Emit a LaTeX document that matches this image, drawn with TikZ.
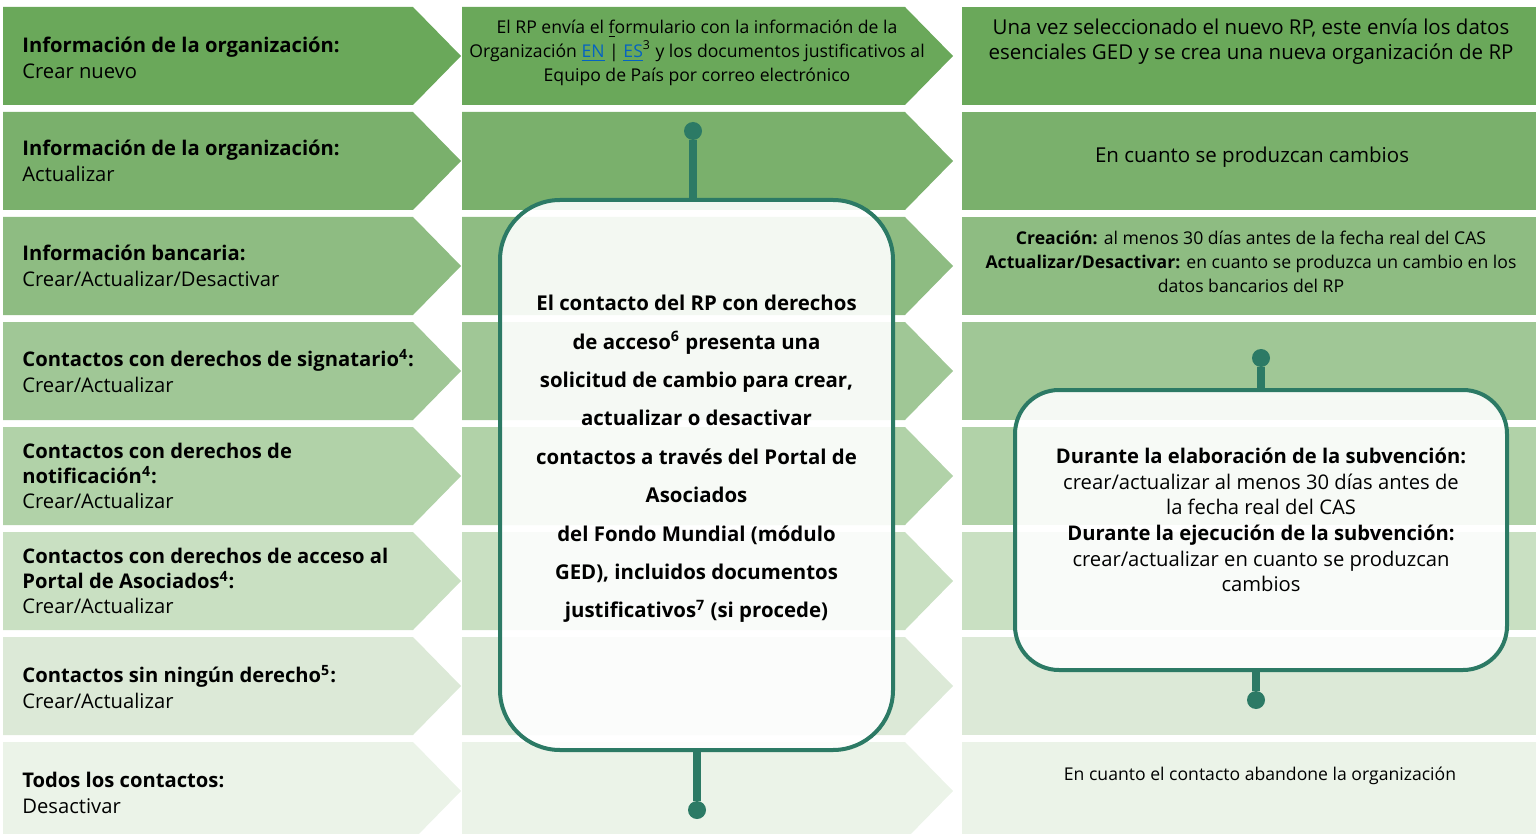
\documentclass[tikz,border=0pt]{standalone}
\usepackage{fontspec}
\setmainfont{Open Sans}
\usepackage{xcolor}

\definecolor{rowA}{RGB}{106,168,90}
\definecolor{rowB}{RGB}{122,176,108}
\definecolor{rowC}{RGB}{142,188,130}
\definecolor{rowD}{RGB}{160,199,150}
\definecolor{rowE}{RGB}{177,210,168}
\definecolor{rowF}{RGB}{201,224,194}
\definecolor{rowG}{RGB}{220,233,215}
\definecolor{rowH}{RGB}{235,243,232}
\definecolor{linkgreen}{RGB}{44,122,101}
\definecolor{linkblue}{RGB}{5,99,193}

\tikzset{
	rowtext/.style={anchor=west, align=left, inner sep=0pt, font=\fontsize{10.1}{12.7}\selectfont},
	celltext/.style={align=center, inner sep=0pt, font=\fontsize{10.25}{12.5}\selectfont},
	smalltext/.style={align=center, inner sep=0pt, font=\fontsize{8.8}{12}\selectfont},
	bigbox/.style={draw=linkgreen, line width=2pt, fill=white, fill opacity=0.9},
	dot/.style={circle, fill=linkgreen, inner sep=0pt, minimum size=9pt},
	link/.style={linkgreen, line width=3.6pt},
}

\begin{document}
\begin{tikzpicture}[x=0.5pt, y=-0.5pt]
		\clip (0,0) rectangle (1536,834);

		% row bands
		\foreach \c [count=\i from 0] in {rowA,rowB,rowC,rowD,rowE,rowF,rowG,rowH} {
			\pgfmathsetmacro\t{7+105*\i}
			\fill[\c] (3,\t) -- (413,\t) -- (461,\t+49) -- (413,\t+98) -- (3,\t+98) -- cycle;
			\fill[\c] (462,\t) -- (905,\t) -- (953,\t+49) -- (905,\t+98) -- (462,\t+98) -- cycle;
			\fill[\c] (962,\t) rectangle (1536,\t+98);
		}

		% left column
		\node[rowtext] (infoNew) at (22,58) {\textbf{Información de la organización:}\\Crear nuevo};
		\node[rowtext] (infoUpd) at (22,161) {\textbf{Información de la organización:}\\Actualizar};
		\node[rowtext] (bank) at (22,266) {\textbf{Información bancaria:}\\Crear/Actualizar/Desactivar};
		\node[rowtext] (signat) at (22,371) {\textbf{Contactos con derechos de signatario\textsuperscript{4}:}\\Crear/Actualizar};
		\node[rowtext] (notif) at (22,476) {\textbf{Contactos con derechos de}\\\textbf{notificación\textsuperscript{4}:}\\Crear/Actualizar};
		\node[rowtext] (access) at (22,581) {\textbf{Contactos con derechos de acceso al}\\\textbf{Portal de Asociados\textsuperscript{4}:}\\Crear/Actualizar};
		\node[rowtext] (noRights) at (22,687) {\textbf{Contactos sin ningún derecho\textsuperscript{5}:}\\Crear/Actualizar};
		\node[rowtext] (allCont) at (22,793) {\textbf{Todos los contactos:}\\Desactivar};

		% middle column
		\node[smalltext] (sendForm) at (697,53) {El RP envía el \underline{f}ormulario con la información de la\\
			Organización \textcolor{linkblue}{\underline{EN}} | \textcolor{linkblue}{\underline{ES}}\textsuperscript{3} y los documentos justificativos al\\
			Equipo de País por correo electrónico};

		\node[bigbox, rounded corners=30pt, minimum width=196.5pt, minimum height=275pt] (request) at (696.5,475) {};
		\node[align=center, inner sep=0pt, font=\bfseries\fontsize{10.2}{19.2}\selectfont] (requestText) at (696.5,459)
			{El contacto del RP con derechos\\
			de acceso\textsuperscript{6} presenta una\\
			solicitud de cambio para crear,\\
			actualizar o desactivar\\
			contactos a través del Portal de\\
			Asociados\\
			del Fondo Mundial (módulo\\
			GED), incluidos documentos\\
			justificativos\textsuperscript{7} (si procede)};

		\node[dot] (reqTop) at (693,131) {};
		\node[dot] (reqBot) at (697,810) {};
		\draw[link] (reqTop) -- (reqTop |- request.north);
		\draw[link] (reqBot |- request.south) -- (reqBot);

		% right column
		\node[celltext] (whenNew) at (1251,42) {Una vez seleccionado el nuevo RP, este envía los datos\\esenciales GED y se crea una nueva organización de RP};
		\node[celltext] (whenUpd) at (1252,157) {En cuanto se produzcan cambios};
		\node[smalltext] (whenBank) at (1251,262) {\textbf{Creación:} al menos 30 días antes de la fecha real del CAS\\
			\textbf{Actualizar/Desactivar:} en cuanto se produzca un cambio en los\\
			datos bancarios del RP};
		\node[smalltext] (whenLeave) at (1260,776) {En cuanto el contacto abandone la organización};

		\node[bigbox, rounded corners=22pt, minimum width=246pt, minimum height=140pt] (grant) at (1261,530) {};
		\node[align=center, inner sep=0pt, font=\fontsize{10.1}{12.8}\selectfont] (grantText) at (1261,520)
			{\textbf{Durante la elaboración de la subvención:}\\
			crear/actualizar al menos 30 días antes de\\
			la fecha real del CAS\\
			\textbf{Durante la ejecución de la subvención:}\\
			crear/actualizar en cuanto se produzcan\\
			cambios};

		\node[dot] (grantTop) at (1261,358) {};
		\node[dot] (grantBot) at (1256,700) {};
		\draw[link] (grantTop) -- (grantTop |- grant.north);
		\draw[link] (grantBot |- grant.south) -- (grantBot);
	\end{tikzpicture}
\end{document}
